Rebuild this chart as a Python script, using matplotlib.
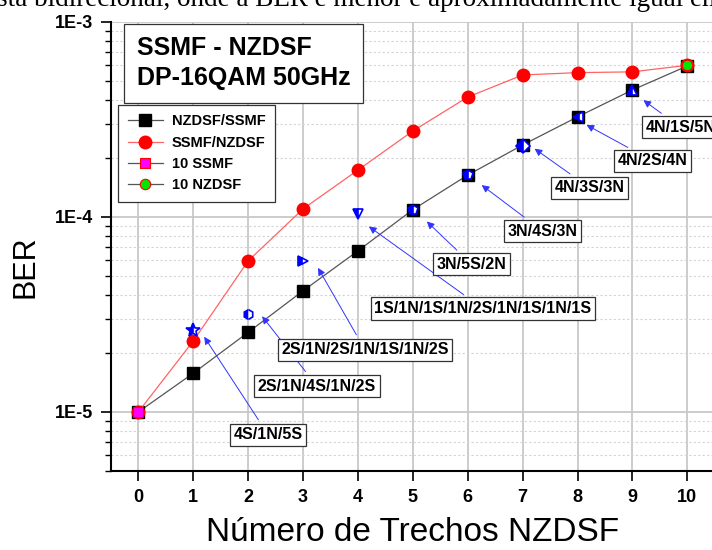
import matplotlib
matplotlib.use("Agg")
import matplotlib.pyplot as plt
from matplotlib.ticker import FixedLocator, LogLocator, NullFormatter
from matplotlib.transforms import offset_copy

plt.rcParams["font.family"] = ["Liberation Sans", "DejaVu Sans"]

# BER versus number of NZDSF spans
spans = list(range(11))
ber_nzdsf_ssmf = [1.0e-5, 1.58e-5, 2.56e-5, 4.18e-5, 6.7e-5, 1.09e-4,
                  1.64e-4, 2.34e-4, 3.26e-4, 4.48e-4, 5.95e-4]
ber_ssmf_nzdsf = [1.0e-5, 2.31e-5, 5.95e-5, 1.10e-4, 1.74e-4, 2.76e-4,
                  4.12e-4, 5.35e-4, 5.5e-4, 5.55e-4, 6.0e-4]
ber_10_ssmf = [1.0e-5]
ber_10_nzdsf = [6.0e-4]

# mixed span arrangements
mix_spans = [1, 2, 3, 4, 5, 6, 7, 8, 9]
mix_ber = [2.64e-5, 3.17e-5, 5.96e-5, 1.03e-4, 1.08e-4, 1.64e-4, 2.32e-4, 3.26e-4, 4.47e-4]
mix_labels = ["4S/1N/5S", "2S/1N/4S/1N/2S", "2S/1N/2S/1N/1S/1N/2S",
              "1S/1N/1S/1N/2S/1N/1S/1N/1S", "3N/5S/2N", "3N/4S/3N",
              "4N/3S/3N", "4N/2S/4N", "4N/1S/5N"]
mix_markers = ["*", "h", ">", "v", "p", "p", "D", "<", "^"]

# label box offsets and arrow tip offsets (pixels from the point)
label_off = [(75, -105), (69, -72), (62, -89), (125, -94), (59, -54),
             (75, -56), (67, -42), (75, -44), (48, -37)]
tip_off = [(11, -7), (14, -2), (15, -7), (11, -12), (14, -11),
           (14, -10), (12, -3), (9, -8), (11, -10)]

fig = plt.figure(figsize=(7.12, 5.5), dpi=100)
ax = fig.add_axes([110.85 / 712, 79.3 / 550, 603.9 / 712, 448.7 / 550])

ax.set_yscale("log")
ax.set_xlim(-0.5, 10.5)
ax.set_ylim(5e-6, 1e-3)

ax.xaxis.set_major_locator(FixedLocator(spans))
ax.yaxis.set_major_locator(FixedLocator([1e-5, 1e-4, 1e-3]))
ax.yaxis.set_minor_locator(LogLocator(base=10, subs=range(2, 10)))
ax.yaxis.set_minor_formatter(NullFormatter())
ax.set_yticklabels(["1E-5", "1E-4", "1E-3"])
for lab in ax.get_xticklabels() + ax.get_yticklabels():
    lab.set_fontweight("bold")
    lab.set_fontsize(13)
ax.tick_params(axis="both", which="major", direction="out", length=7, width=1.2, pad=6)
ax.tick_params(axis="y", which="minor", direction="out", length=4, width=1.0)
ax.tick_params(axis="x", which="minor", bottom=False)

for side in ("top", "right"):
    ax.spines[side].set_visible(False)
for side in ("left", "bottom"):
    ax.spines[side].set_linewidth(1.5)

ax.grid(True, which="major", axis="both", color="#c8c8c8", lw=1.3)
ax.grid(True, which="minor", axis="y", color="#d4d4d4", lw=0.8, linestyle=(0, (2, 2)))
ax.set_axisbelow(True)

ax.plot(spans, ber_nzdsf_ssmf, color="#555555", lw=0.9, marker="s", ms=8.5,
        mfc="black", mec="black", label="NZDSF/SSMF", zorder=3)
ax.plot(spans, ber_ssmf_nzdsf, color="#ff6464", lw=0.9, marker="o", ms=9,
        mfc="red", mec="red", label="SSMF/NZDSF", zorder=3)
ax.plot([0], ber_10_ssmf, color="#555555", lw=0.9, marker="s", ms=7.5,
        mfc="magenta", mec="red", mew=0.8, label="10 SSMF", zorder=4)
ax.plot([10], ber_10_nzdsf, color="#555555", lw=0.9, marker="o", ms=7.5,
        mfc="#00e600", mec="red", mew=0.8, label="10 NZDSF", zorder=4)

for x, y, mk in zip(mix_spans, mix_ber, mix_markers):
    size = 10 if mk == "*" else 7
    ax.plot([x], [y], linestyle="none", marker=mk, ms=size, mfc="blue",
            mfcalt="white", fillstyle="left", mec="blue", mew=1.2, zorder=5)

for x, y, text, (lx, ly), (tx, ty) in zip(mix_spans, mix_ber, mix_labels,
                                           label_off, tip_off):
    tip = offset_copy(ax.transData, fig=fig, x=tx, y=ty, units="dots")
    ax.annotate(text, xy=(x, y), xycoords=tip,
                xytext=((lx - tx) * 0.72, (ly - ty) * 0.72),
                textcoords="offset points", ha="center", va="center",
                fontsize=11.5, fontweight="bold",
                bbox=dict(boxstyle="square,pad=0.22", fc="white", ec="#333333", lw=0.9),
                arrowprops=dict(arrowstyle="-|>", color="#3333ff", lw=0.7,
                                mutation_scale=11, shrinkA=3, shrinkB=0),
                zorder=6)

leg = ax.legend(loc="upper left", bbox_to_anchor=(0.0123, 0.815), borderaxespad=0,
                fancybox=False, edgecolor="#333333", framealpha=1,
                prop=dict(weight="bold", size=10.5), handlelength=2.4,
                labelspacing=0.5, borderpad=0.65, handletextpad=0.6)
leg.get_frame().set_linewidth(0.9)

ax.text(0.0427, 0.968, "SSMF - NZDSF\nDP-16QAM 50GHz", transform=ax.transAxes,
        ha="left", va="top", fontsize=18, fontweight="bold", linespacing=1.3,
        bbox=dict(boxstyle="square,pad=0.5", fc="white", ec="#333333", lw=0.9),
        zorder=7)

ax.set_ylabel("BER", fontsize=22)
ax.yaxis.set_label_coords(-0.116, 0.455)
ax.set_xlabel("Número de Trechos NZDSF", fontsize=24, labelpad=8)

fig.text(-0.004, 1 - 6 / 550, "sta bidirecional, onde a BER é menor e aproximadamente igual em",
         family="Liberation Serif", fontsize=19.5, ha="left", va="baseline")

fig.savefig("out.png", dpi=100)
